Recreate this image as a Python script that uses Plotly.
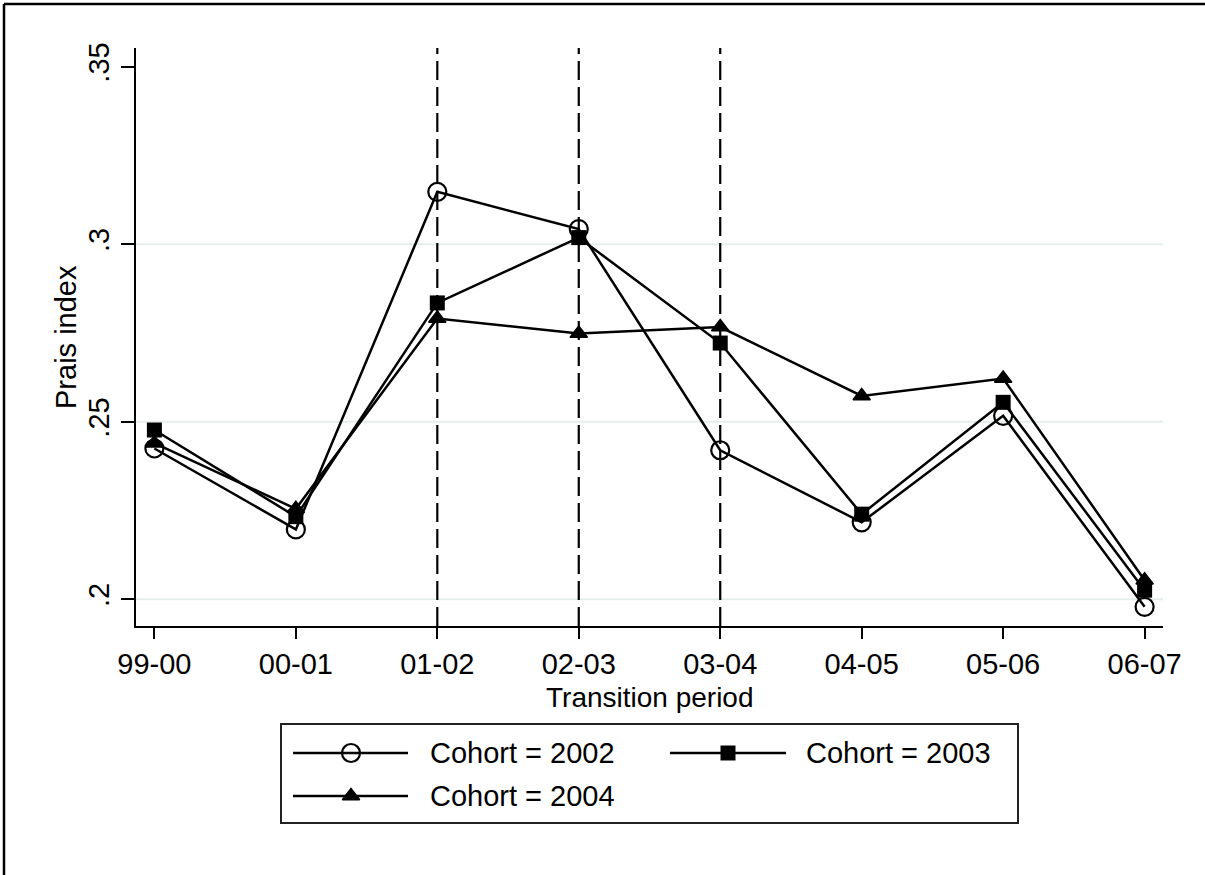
import plotly.graph_objects as go

# Transition periods on the x axis
periods = ["99-00", "00-01", "01-02", "02-03", "03-04", "04-05", "05-06", "06-07"]

# Prais index by cohort
cohort_2002 = [0.2425, 0.2197, 0.3148, 0.3043, 0.2420, 0.2217, 0.2517, 0.1979]
cohort_2003 = [0.2477, 0.2233, 0.2835, 0.3019, 0.2722, 0.2240, 0.2555, 0.2026]
cohort_2004 = [0.2440, 0.2255, 0.2791, 0.2749, 0.2767, 0.2573, 0.2622, 0.2054]

cohort_labels = ["Cohort = 2002", "Cohort = 2003", "Cohort = 2004"]

# Policy reference periods (dashed verticals)
reference_periods = ["01-02", "02-03", "03-04"]

# Y axis ticks and grid
y_ticks = [0.2, 0.25, 0.3, 0.35]
y_tick_text = [".2", ".25", ".3", ".35"]
grid_values = [0.2, 0.25, 0.3]

W, H = 1205, 875
FONT = "Liberation Sans, Arial, sans-serif"

# plot area in pixels
PX_L, PX_R, PX_T, PX_B = 136, 1163, 48, 626

styles = [
    dict(symbol="circle-open", size=18, color="black", line=dict(width=2.2, color="black")),
    dict(symbol="square", size=15, color="black", line=dict(width=0)),
    dict(symbol="triangle-up", size=15, color="black", line=dict(width=1.5, color="black")),
]

fig = go.Figure()

for vals, name, mk in zip([cohort_2002, cohort_2003, cohort_2004], cohort_labels, styles):
    fig.add_trace(go.Scatter(
        x=periods, y=vals, name=name, mode="lines+markers",
        line=dict(color="black", width=2.5),
        marker=mk, showlegend=False, cliponaxis=False,
        xaxis="x", yaxis="y",
    ))

# Light horizontal gridlines
for g in grid_values:
    fig.add_shape(type="line", xref="x domain", yref="y", x0=0, x1=1, y0=g, y1=g,
                  line=dict(color="#e6ecec", width=2), layer="below")

# Dashed reference lines
for p in reference_periods:
    fig.add_shape(type="line", xref="x", yref="y domain", x0=p, x1=p, y0=0, y1=1,
                  line=dict(color="black", width=2.2, dash="19px,7px"), layer="above")

# Overlay coordinate frame in pixels for the key box
legend_box = dict(x0=281, x1=1018, y0=724, y1=823)
rows = [753, 796]
entries = [
    (293, 408, 351, rows[0], 428),
    (670, 786, 728, rows[0], 804),
    (293, 408, 351, rows[1], 428),
]
fig.add_shape(type="rect", xref="x2", yref="y2", **legend_box,
              line=dict(color="#222", width=2), fillcolor="rgba(0,0,0,0)")
for (xa, xb, xm, yr, xt), name, mk in zip(entries, cohort_labels, styles):
    fig.add_trace(go.Scatter(x=[xa, xb], y=[yr, yr], mode="lines",
                             line=dict(color="black", width=2.5),
                             showlegend=False, xaxis="x2", yaxis="y2", hoverinfo="skip"))
    fig.add_trace(go.Scatter(x=[xm], y=[yr], mode="markers", marker=mk,
                             showlegend=False, xaxis="x2", yaxis="y2", hoverinfo="skip"))
    fig.add_annotation(x=xt, y=yr, xref="x2", yref="y2", text=name, showarrow=False,
                       xanchor="left", yanchor="middle", font=dict(size=29, color="black"))

# Axis titles
fig.add_annotation(x=650, y=697, xref="x2", yref="y2", text="Transition period",
                   showarrow=False, xanchor="center", yanchor="middle",
                   font=dict(size=28, color="black"))
fig.add_annotation(x=66, y=337, xref="x2", yref="y2", text="Prais index", textangle=-90,
                   showarrow=False, xanchor="center", yanchor="middle",
                   font=dict(size=29, color="black"))

# Outer frame (top and left edges)
fig.add_shape(type="line", xref="paper", yref="paper", x0=4 / W, x1=1, y0=1 - 4 / H, y1=1 - 4 / H,
              line=dict(color="black", width=2.5))
fig.add_shape(type="line", xref="paper", yref="paper", x0=4 / W, x1=4 / W, y0=0, y1=1 - 4 / H,
              line=dict(color="black", width=2.5))

fig.update_layout(
    template="none",
    width=W, height=H, autosize=False,
    margin=dict(l=0, r=0, t=0, b=0, pad=0, autoexpand=False),
    paper_bgcolor="white", plot_bgcolor="rgba(0,0,0,0)",
    font=dict(family=FONT, size=29, color="black"),
    showlegend=False,
    xaxis=dict(
        domain=[PX_L / W, PX_R / W], type="category",
        categoryorder="array", categoryarray=periods,
        range=[-0.13, 7.13], showgrid=False, zeroline=False, automargin=False,
        showline=True, linecolor="black", linewidth=2,
        ticks="outside", ticklen=11, tickwidth=1.5, tickcolor="black",
        tickfont=dict(size=29), anchor="y",
    ),
    yaxis=dict(
        domain=[1 - PX_B / H, 1 - PX_T / H],
        range=[0.1925, 0.3553], tickvals=y_ticks, ticktext=y_tick_text,
        showgrid=False, zeroline=False, automargin=False,
        showline=True, linecolor="black", linewidth=2,
        ticks="outside", ticklen=13, tickwidth=1.5, tickcolor="black",
        tickangle=-90, tickfont=dict(size=29), anchor="x",
    ),
    xaxis2=dict(domain=[0, 1], range=[0, W], visible=False, anchor="y2",
                fixedrange=True, automargin=False),
    yaxis2=dict(domain=[0, 1], range=[H, 0], visible=False, anchor="x2",
                fixedrange=True, automargin=False),
)

fig.write_html("out.html", config={"displayModeBar": False})
